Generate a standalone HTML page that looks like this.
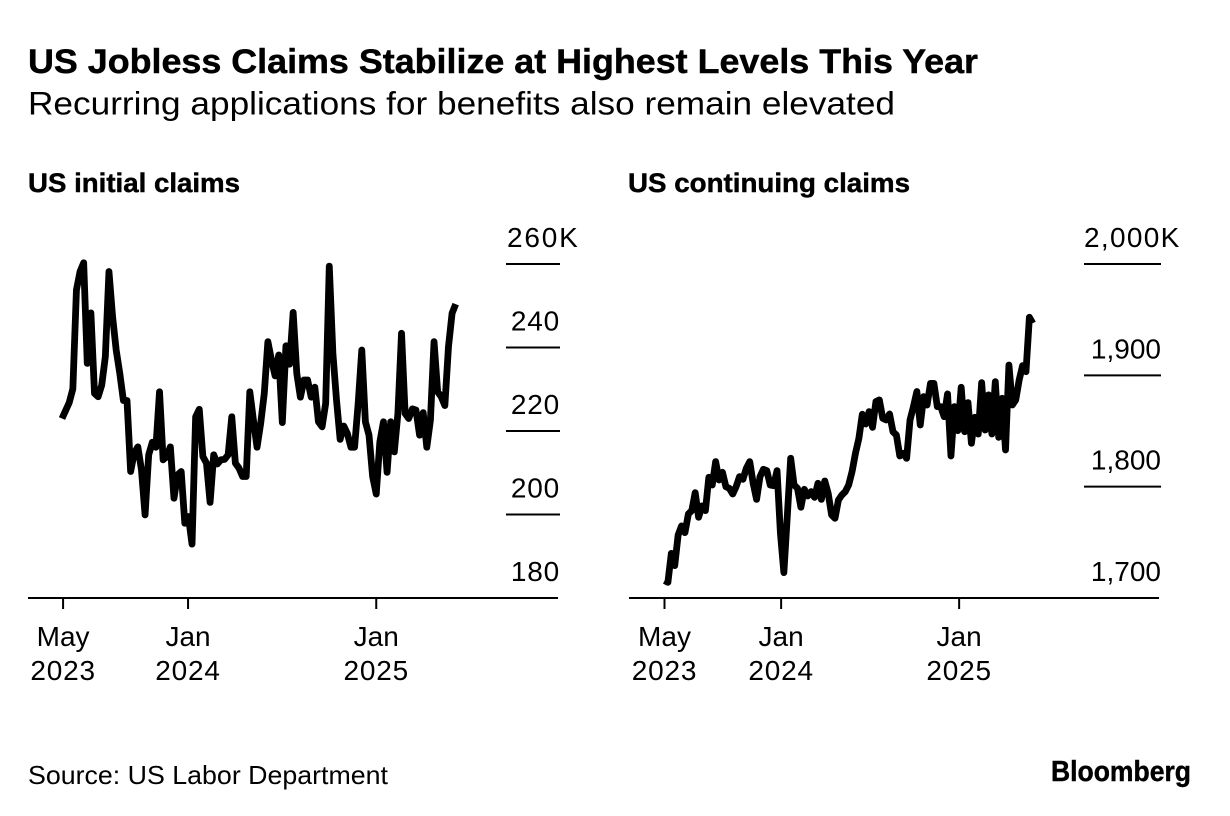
<!DOCTYPE html>
<html lang="en">
<head>
<meta charset="utf-8">
<title>US Jobless Claims Stabilize at Highest Levels This Year</title>
<style>
html,body{margin:0;padding:0;background:#fff;}
svg{display:block;}
text{font-family:"Liberation Sans",Arial,sans-serif;fill:#000;}
.b{font-weight:700;stroke:#000;stroke-width:0.45px;}
.tick{font-size:28px;}
</style>
</head>
<body>
<svg id="chart" xmlns="http://www.w3.org/2000/svg" width="1230" height="816" viewBox="0 0 1230 816">
<rect x="0" y="0" width="1230" height="816" fill="#fff"/>
<text class="b" x="28" y="73" font-size="34" textLength="950" lengthAdjust="spacingAndGlyphs">US Jobless Claims Stabilize at Highest Levels This Year</text>
<text x="28" y="114.5" font-size="32" textLength="867" lengthAdjust="spacingAndGlyphs">Recurring applications for benefits also remain elevated</text>
<text class="b" x="28" y="192" font-size="27" textLength="212" lengthAdjust="spacingAndGlyphs">US initial claims</text>
<text class="b" x="628" y="192" font-size="27" textLength="282" lengthAdjust="spacingAndGlyphs">US continuing claims</text>
<g id="panel-left"></g>
<g id="panel-right"></g>
<text x="28" y="784" font-size="26" textLength="360" lengthAdjust="spacingAndGlyphs">Source: US Labor Department</text>
<text class="b" x="1051" y="781" font-size="29" textLength="140" lengthAdjust="spacingAndGlyphs">Bloomberg</text>
</svg>
<script>
const initialClaims = [
223,224.9,226.8,230.1,253.8,258.2,260.3,236.2,248.3,229,228.2,231,237.8,258.2,247.4,239.4,233.8,227.3,227.3,210.3,
214.7,216.2,210.7,199.9,214.3,217.3,216.1,229.4,213.1,213.9,216.2,203.9,209.5,210.3,197.9,199.5,192.9,223.4,225.2,213.9,
212.3,202.9,214.3,212.1,213.1,213.2,214.3,223.4,212.3,211.1,209.1,209.1,229.4,222.6,216.1,221.8,229,241.4,237,233.2,
238.2,222,240.4,236,248.4,233.8,228.1,232.2,232.2,228.1,230.5,222.2,221,226.6,259.5,238.6,227.4,218,221.2,219.4,
216.1,216.1,226.6,239.4,222.2,219,209.1,204.9,217.4,222.2,210.1,222.2,215,224.2,243.4,224.2,223,225.3,225,219,
224.4,216.1,222.6,241.4,229.4,228.2,226.1,240.2,248.2,250.4];
const continuingClaims = [
1715.6,1714.1,1740.1,1729.1,1756.6,1764.7,1758.7,1775.5,1778.5,1794.6,1772.5,1782.7,1778.5,1808.4,1801.5,1822.5,1806,1812.9,1800,1798.5,
1793.4,1800,1809,1806.6,1816.5,1822.5,1803,1788.6,1809,1815.6,1814.4,1801.5,1800.9,1814.4,1758.1,1722.8,1773.1,1825.5,1801.5,1798.5,
1781.5,1797.6,1791.6,1795.5,1790.4,1803,1788.6,1805.1,1794,1774.6,1771.6,1788,1792.5,1795.5,1801.5,1813.5,1830,1843.4,1865,1856.3,
1867.4,1853.3,1876.4,1877.9,1861.4,1859.9,1865.3,1849.4,1846.4,1827.6,1830,1825.5,1859.9,1871.9,1885.4,1855.4,1880.9,1873.4,1892.8,1892.8,
1871.9,1871.9,1862.9,1883.3,1827.6,1871.9,1850.3,1889.3,1849.4,1875.5,1839,1862.3,1847.3,1893.4,1850.9,1882.4,1847.3,1894.3,1844.3,1879.4,
1833,1909.3,1873.4,1877.9,1895.8,1908.7,1903.3,1952.1,1946.7];
const leftYTicks = [180,200,220,240,260];
const leftYLabels = ["180","200","220","240","260K"];
const rightYTicks = [1700,1800,1900,2000];
const rightYLabels = ["1,700","1,800","1,900","2,000K"];
const xTickMonths = ["May","Jan","Jan"];
const xTickYears = ["2023","2024","2025"];
const leftXTickWeeks = [0.3,34.9,87];
const rightXTickWeeks = [0,34.2,86.4];

const NS = "http://www.w3.org/2000/svg";
function scale(d0,d1,r0,r1){ return function(v){ return r0+(v-d0)*(r1-r0)/(d1-d0); }; }
function mk(parent,tag,attrs,txt){
  const el=document.createElementNS(NS,tag);
  for(const k in attrs){ el.setAttribute(k,attrs[k]); }
  if(txt!==undefined){ el.textContent=txt; }
  parent.appendChild(el);
  return el;
}
function drawPanel(cfg){
  const g=document.getElementById(cfg.id);
  const x=scale(0,cfg.values.length-1,cfg.x0,cfg.x1);
  const y=scale(cfg.yTicks[0],cfg.yTicks[cfg.yTicks.length-1],598,264);

  cfg.yTicks.forEach(function(t,i){
    const lab=mk(g,"text",{class:"tick",x:cfg.labelX,y:y(t)-17,"text-anchor":"end"},cfg.yLabels[i]);
    
    
    lab.setAttribute('letter-spacing', cfg.labelSpacing);
    if(i===cfg.yTicks.length-1){
      lab.setAttribute('text-anchor','start');
      lab.setAttribute('x',cfg.topLabelX);
      lab.setAttribute('letter-spacing',cfg.topSpacing);
    }
    if(i>0){
      const gl=mk(g,"line",{x1:cfg.gridX0,x2:cfg.gridX1,y1:y(t),y2:y(t),stroke:"#000","stroke-width":2});
      
      
    }
  });

  const axis=mk(g,"line",{x1:cfg.axisX0,x2:cfg.axisX1,y1:598,y2:598,stroke:"#000","stroke-width":2});
  
  

  cfg.xTicks.forEach(function(w,i){
    const px=x(w);
    const tk=mk(g,"line",{x1:px,x2:px,y1:598,y2:609,stroke:"#000","stroke-width":2});
    
    
    const m=mk(g,"text",{class:"tick",x:px,y:646,"text-anchor":"middle"},xTickMonths[i]);
    
    
    const yr=mk(g,"text",{class:"tick",x:px,y:680,"text-anchor":"middle","letter-spacing":"0.8"},xTickYears[i]);
    
    
  });

  const pts=cfg.values.map(function(v,i){ return x(i).toFixed(2)+","+y(v).toFixed(2); }).join(" ");
  const line=mk(g,"polyline",{points:pts,fill:"none",stroke:"#000","stroke-width":6.8,"stroke-linejoin":"round","stroke-linecap":"butt"});
  
  
}
drawPanel({id:"panel-left",values:initialClaims,yTicks:leftYTicks,yLabels:leftYLabels,xTicks:leftXTickWeeks,labelSpacing:"0.8",topSpacing:"1.8",
  x0:62,x1:455.7,labelX:560,topLabelX:507,gridX0:506,gridX1:560,axisX0:28,axisX1:558,lineName:"initial-claims-line"});
drawPanel({id:"panel-right",values:continuingClaims,yTicks:rightYTicks,yLabels:rightYLabels,xTicks:rightXTickWeeks,labelSpacing:"0",topSpacing:"1.3",
  x0:664.5,x1:1032.8,labelX:1161,topLabelX:1084,gridX0:1084,gridX1:1161,axisX0:629,axisX1:1159,lineName:"continuing-claims-line"});
</script>
</body>
</html>
